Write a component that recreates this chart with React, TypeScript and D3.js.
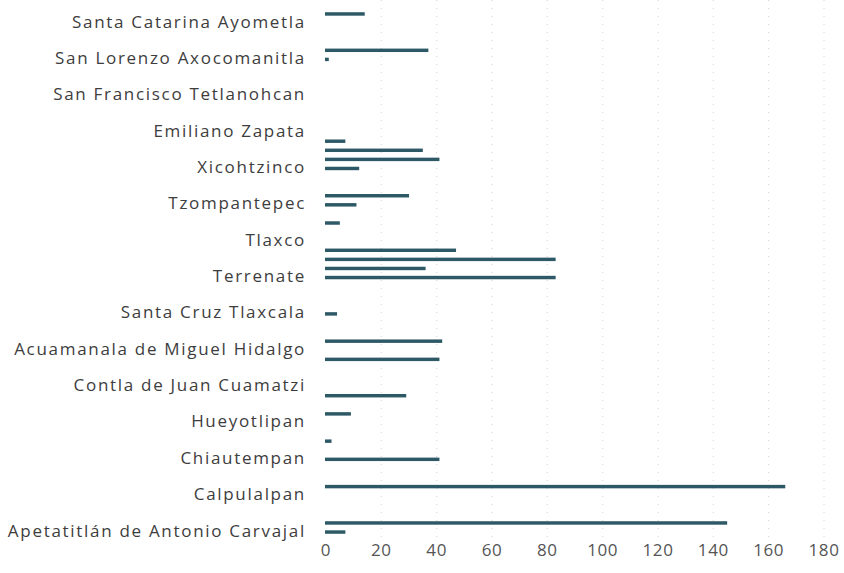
import React from "react";
import * as d3 from "d3";

// municipios de Tlaxcala, ordered by clave (002 .. 059), bottom to top
const municipios = [
  "Apetatitlán de Antonio Carvajal", "Atlangatepec", "Atltzayanca", "Apizaco",
  "Calpulalpan", "El Carmen Tequexquitla", "Cuapiaxtla", "Cuaxomulco",
  "Chiautempan", "Muñoz de Domingo Arenas", "Españita", "Huamantla",
  "Hueyotlipan", "Ixtacuixtla de Mariano Matamoros", "Ixtenco", "Mazatecochco de José María Morelos",
  "Contla de Juan Cuamatzi", "Tepetitla de Lardizábal", "Sanctórum de Lázaro Cárdenas", "Nanacamilpa de Mariano Arista",
  "Acuamanala de Miguel Hidalgo", "Natívitas", "Panotla", "San Pablo del Monte",
  "Santa Cruz Tlaxcala", "Tenancingo", "Teolocholco", "Tepeyanco",
  "Terrenate", "Tetla de la Solidaridad", "Tetlatlahuca", "Tlaxcala",
  "Tlaxco", "Tocatlán", "Totolac", "Ziltlaltépec de Trinidad Sánchez Santos",
  "Tzompantepec", "Xaloztoc", "Xaltocan", "Papalotla de Xicohténcatl",
  "Xicohtzinco", "Yauhquemehcan", "Zacatelco", "Benito Juárez",
  "Emiliano Zapata", "Lázaro Cárdenas", "La Magdalena Tlaltelulco", "San Damián Texóloc",
  "San Francisco Tetlanohcan", "San Jerónimo Zacualpan", "San José Teacalco", "San Juan Huactzinco",
  "San Lorenzo Axocomanitla", "San Lucas Tecopilco", "Santa Ana Nopalucan", "Santa Apolonia Teacalco",
  "Santa Catarina Ayometla", "Santa Cruz Quilehtla",
];

const valores = [
  7, 145, 0, 0,
  0, 166, 0, 0,
  41, 0, 2, 0,
  0, 9, 0, 29,
  0, 0, 0, 41,
  0, 42, 0, 0,
  4, 0, 0, 0,
  83, 36, 83, 47,
  0, 0, 5, 0,
  11, 30, 0, 0,
  12, 41, 35, 7,
  0, 0, 0, 0,
  0, 0, 0, 0,
  1, 37, 0, 0,
  0, 14,
];

const xTicks = [0, 20, 40, 60, 80, 100, 120, 140, 160, 180];

const W = 844;
const H = 573;

export default function App() {
  const rows = municipios.map((m, i) => ({ name: m, value: valores[i] }));

  const x = d3.scaleLinear().domain([0, 180]).range([326, 824]);
  const y = d3
    .scaleBand<string>()
    .domain(municipios.slice().reverse())
    .range([9.5, 536.5])
    .paddingInner(0.62)
    .paddingOuter(0.3);

  // excel only shows every 4th category label
  const shownLabels = municipios.filter((_, i) => i % 4 === 0);

  return (
    <div style={{ position: "absolute", left: 0, top: 0 }}>
      <svg width={W} height={H} style={{ display: "block", background: "#fff" }}>
        <g>
          {xTicks.slice(1).map((t) => (
            <line
              key={t}
              x1={x(t)}
              x2={x(t)}
              y1={0}
              y2={537}
              stroke="#d2d2d2"
              strokeWidth={1}
              strokeDasharray="1 7"
            />
          ))}
        </g>
        <g>
          {rows.map((r) =>
            r.value > 0 ? (
              <rect
                key={r.name}
                x={x(0) - 1}
                y={y(r.name)}
                width={x(r.value) - x(0) + 1}
                height={y.bandwidth()}
                fill="#2d5866"
              />
            ) : null
          )}
        </g>
        <g fontFamily="'Open Sans', sans-serif" fill="#3d3d3d">
          {shownLabels.map((m) => (
            <text
              key={m}
              x={306}
              y={(y(m) || 0) + y.bandwidth() / 2 - 2}
              textAnchor="end"
              dominantBaseline="central"
              fontSize={17}
              letterSpacing={1.7}
            >
              {m}
            </text>
          ))}
          {xTicks.map((t) => (
            <text
              key={t}
              x={x(t)}
              y={549}
              textAnchor="middle"
              dominantBaseline="central"
              fontSize={17}
              letterSpacing={0.6}
              fill="#555555"
            >
              {t}
            </text>
          ))}
        </g>
      </svg>
    </div>
  );
}
